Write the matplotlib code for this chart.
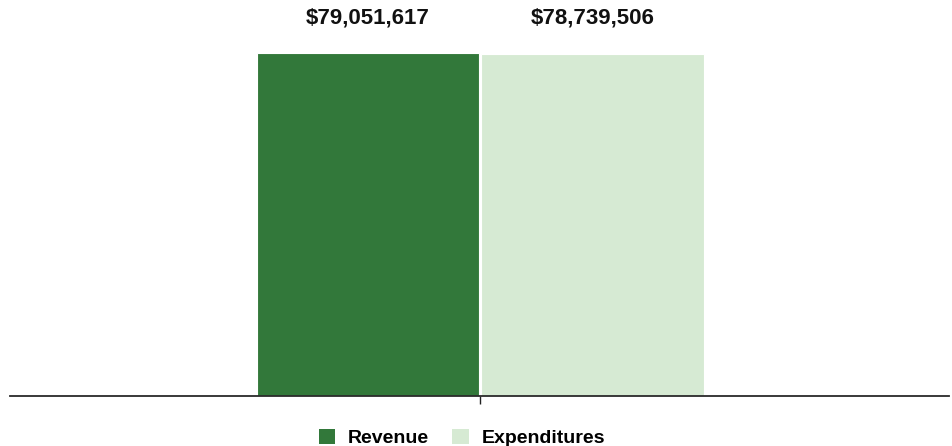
import matplotlib.pyplot as plt
from matplotlib.patches import Patch

categories = ["Revenue", "Expenditures"]
values = [79051617, 78739506]
colors = ["#32783a", "#d6eAd3"]

plt.rcParams["font.family"] = ["Liberation Sans", "DejaVu Sans"]

fig = plt.figure(figsize=(9.52, 4.46), dpi=100)
ax = fig.add_axes([10 / 952, 50 / 446, 939 / 952, 396 / 446])

width = 0.474
offsets = [-0.2375, 0.2405]
bars = ax.bar(offsets, values, width=width, color=colors, edgecolor="white", linewidth=0.8)

# labels sit on a common line above the taller bar
top = max(values)
for bar, val in zip(bars, values):
    ax.annotate(f"${val:,.0f}", (bar.get_x() + bar.get_width() / 2, top),
                xytext=(0, 25.5), textcoords="offset points", ha="center", va="center",
                fontsize=16, fontweight="bold", color="#111111")

ax.set_xlim(-1, 1)
ax.set_ylim(0, 91.3e6)
for side in ["top", "right", "left"]:
    ax.spines[side].set_visible(False)
ax.spines["bottom"].set_color("#2a2a2a")
ax.spines["bottom"].set_linewidth(1.3)
ax.set_xticks([0])
ax.set_xticklabels([""])
ax.tick_params(axis="x", direction="out", length=6, width=1, color="#222222")
ax.set_yticks([])

handles = [Patch(facecolor=c, edgecolor="none", label=l) for c, l in zip(colors, categories)]
fig.legend(handles=handles, loc="center", bbox_to_anchor=(0.485, 8 / 446), ncol=2, frameon=False,
           prop={"weight": "bold", "size": 14}, handlelength=0.85, handleheight=0.85,
           handletextpad=0.65, columnspacing=1.2)

fig.savefig("out.png", dpi=100)
